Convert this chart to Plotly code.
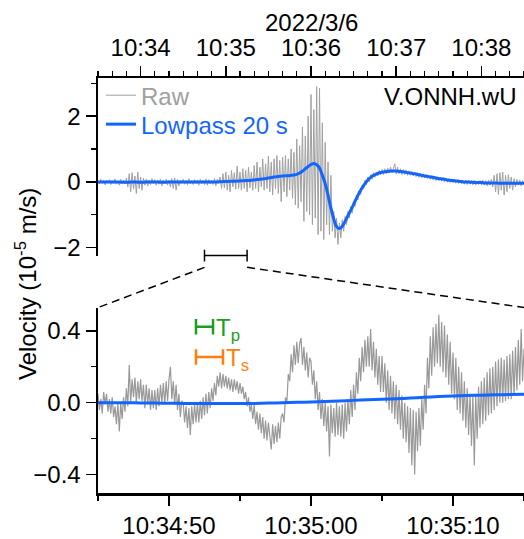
import plotly.graph_objects as go
import pandas as pd

# ---------------- data ----------------
top_start = "2022-03-06 10:33:30"
top_end = "2022-03-06 10:38:30"
zoom_start = "2022-03-06 10:34:45"
zoom_end = "2022-03-06 10:35:15"
date_label = "2022/3/6"
station = "V.ONNH.wU"

# raw trace, full window, 1 s samples (10^-5 m/s)
raw_top = [
    0.03, -0.06, 0.08, -0.04, 0.05, -0.09, 0.06, -0.03, 0.07, -0.08,
    0.04, -0.05, 0.09, -0.07, 0.03, -0.1, 0.08, -0.04, 0.06, -0.06,
    0.12, -0.15, 0.25, -0.3, 0.28, -0.22, 0.18, -0.35, 0.3, -0.2,
    0.15, -0.25, 0.12, -0.1, 0.08, -0.12, 0.06, -0.08, 0.1, -0.05,
    0.07, -0.1, 0.05, -0.07, 0.09, -0.12, 0.06, -0.04, 0.08, -0.1,
    0.05, -0.15, 0.1, -0.2, 0.12, -0.25, 0.08, -0.12, 0.06, -0.05,
    0.08, -0.07, 0.05, -0.09, 0.1, -0.06, 0.04, -0.08, 0.07, -0.05,
    0.06, -0.1, 0.08, -0.06, 0.05, -0.08, 0.09, -0.1, 0.07, -0.06,
    0.05, -0.08, 0.1, -0.12, 0.08, -0.05, 0.15, -0.2, 0.25, -0.18,
    0.3, -0.25, 0.2, -0.3, 0.35, -0.15, 0.28, -0.22, 0.48, -0.2,
    0.3, -0.25, 0.4, -0.2, 0.35, -0.3, 0.45, -0.18, 0.3, -0.25,
    0.5, -0.2, 0.6, -0.3, 0.45, -0.15, 0.7, -0.25, 0.55, -0.2,
    0.78, -0.3, 0.6, -0.4, 0.7, -0.2, 0.8, -0.35, 0.65, -0.6,
    0.75, -0.3, 0.8, -0.45, 0.7, -0.25, 1.0, -0.5, 0.9, -0.7,
    1.3, -0.8, 1.1, -0.6, 1.67, -1.2, 1.4, -0.9, 2.0, -1.0,
    2.66, -1.3, 2.2, -1.1, 2.9, -1.6, 2.85, -1.5, 1.8, -1.75,
    1.2, -1.3, 0.6, -1.6, 0.2, -1.5, -0.9, -1.7, -1.1, -1.9,
    -1.25, -1.7, -1.15, -1.5, -1.05, -1.3, -0.9, -1.1, -0.75, -0.95,
    -0.6, -0.75, -0.4, -0.55, -0.25, -0.38, -0.1, -0.22, 0.05, -0.08,
    0.14, 0.0, 0.22, 0.08, 0.28, 0.14, 0.3, 0.18, 0.35, 0.22,
    0.38, 0.22, 0.4, 0.25, 0.42, 0.26, 0.45, 0.28, 0.4, 0.55,
    0.24, 0.45, 0.25, 0.4, 0.22, 0.38, 0.22, 0.36, 0.2, 0.34,
    0.2, 0.32, 0.18, 0.3, 0.16, 0.28, 0.14, 0.27, 0.12, 0.25,
    0.12, 0.23, 0.1, 0.21, 0.08, 0.2, 0.06, 0.18, 0.04, 0.16,
    0.03, 0.15, 0.02, 0.13, 0.0, 0.12, -0.01, 0.1, -0.02, 0.09,
    -0.03, 0.08, -0.04, 0.07, -0.05, 0.06, -0.06, 0.05, -0.07, 0.06,
    -0.08, 0.05, -0.07, 0.04, -0.09, 0.05, -0.1, 0.03, -0.08, 0.04,
    -0.09, 0.05, -0.1, 0.04, -0.12, 0.06, -0.1, 0.08, -0.15, 0.2,
    -0.3, 0.25, -0.38, 0.28, -0.25, 0.3, -0.4, 0.2, -0.3, 0.22,
    -0.2, 0.15, -0.25, 0.1, -0.15, 0.08, -0.1, 0.06, -0.12, 0.04,
    -0.05,
]

# 20 s lowpass, full window, 2 s samples
lowpass_top = [
    0.0, 0.0, 0.0, 0.0, 0.0, 0.0, 0.0, 0.0, -0.01, -0.01,
    -0.01, -0.01, 0.0, 0.0, -0.01, -0.01, -0.01, 0.0, 0.0, 0.0,
    0.0, 0.0, -0.01, -0.01, -0.01, 0.0, 0.0, 0.0, 0.0, 0.0,
    0.0, 0.0, 0.0, 0.0, 0.0, 0.0, 0.0, 0.0, 0.0, 0.0,
    0.0, 0.0, 0.0, 0.005, 0.01, 0.01, 0.015, 0.02, 0.02, 0.025,
    0.03, 0.035, 0.04, 0.045, 0.05, 0.06, 0.07, 0.08, 0.09, 0.1,
    0.12, 0.13, 0.15, 0.16, 0.17, 0.18, 0.19, 0.19, 0.2, 0.21,
    0.23, 0.27, 0.33, 0.4, 0.47, 0.53, 0.56, 0.52, 0.42, 0.2,
    -0.05, -0.4, -0.8, -1.12, -1.36, -1.42, -1.35, -1.2, -1.03, -0.86,
    -0.68, -0.5, -0.33, -0.18, -0.05, 0.06, 0.14, 0.2, 0.24, 0.27,
    0.29, 0.31, 0.32, 0.33, 0.33, 0.33, 0.32, 0.31, 0.3, 0.28,
    0.27, 0.25, 0.24, 0.22, 0.2, 0.18, 0.17, 0.15, 0.14, 0.12,
    0.1, 0.09, 0.08, 0.06, 0.05, 0.04, 0.03, 0.02, 0.01, 0.0,
    0.0, -0.01, -0.01, -0.02, -0.02, -0.02, -0.03, -0.03, -0.03, -0.03,
    -0.03, -0.04, -0.04, -0.04, -0.04, -0.04, -0.04, -0.04, -0.04, -0.04,
    -0.04,
]

# raw trace, zoom window, 0.1 s samples
raw_zoom = [
    0.05, -0.04, 0.02, -0.06, 0.06, -0.01, 0.05, -0.05, 0.02, -0.06,
    0.03, -0.08, -0.02, -0.12, 0.0, -0.16, 0.0, -0.09, 0.03, -0.05,
    0.08, -0.02, 0.21, 0.0, 0.13, 0.03, 0.14, 0.0, 0.12, 0.02,
    0.13, 0.01, 0.1, -0.03, 0.1, -0.01, 0.08, -0.04, 0.07, -0.03,
    0.07, -0.04, 0.08, -0.02, 0.1, 0.0, 0.11, -0.01, 0.12, 0.01,
    0.13, 0.2, 0.02, 0.12, -0.01, 0.1, -0.04, 0.05, -0.08, 0.01,
    0.0, -0.11, -0.02, -0.14, -0.03, -0.18, -0.02, -0.12, -0.01, -0.11,
    0.0, -0.11, 0.01, -0.09, 0.03, -0.07, 0.05, -0.06, 0.06, -0.03,
    0.08, 0.01, 0.11, 0.04, 0.15, 0.09, 0.17, 0.08, 0.16, 0.09,
    0.15, 0.08, 0.14, 0.07, 0.13, 0.06, 0.13, 0.07, 0.12, 0.05,
    0.11, 0.05, 0.09, 0.02, 0.06, -0.02, 0.03, -0.05, -0.01, -0.09,
    -0.01, -0.12, -0.05, -0.15, -0.06, -0.17, -0.08, -0.2, -0.1, -0.21,
    -0.11, -0.21, -0.26, -0.12, -0.23, -0.13, -0.22, -0.11, -0.2, -0.08,
    -0.06, -0.11, 0.03, 0.0, 0.16, 0.12, 0.27, 0.17, 0.32, 0.21,
    0.34, 0.22, 0.33, 0.36, 0.21, 0.31, 0.18, 0.28, 0.14, 0.25,
    0.23, 0.1, 0.18, 0.02, 0.12, -0.04, 0.06, -0.09, 0.02, -0.13,
    0.0, -0.16, -0.02, -0.3, -0.01, -0.17, -0.03, -0.19, 0.0, -0.18,
    -0.02, -0.19, -0.01, -0.2, 0.0, -0.16, 0.02, -0.12, 0.07, -0.08,
    0.1, -0.04, 0.17, 0.05, 0.25, 0.12, 0.31, 0.17, 0.35, 0.2,
    0.37, 0.2, 0.41, 0.18, 0.34, 0.14, 0.3, 0.1, 0.26, 0.06,
    0.26, 0.06, 0.22, 0.0, 0.18, -0.04, 0.15, -0.06, 0.12, -0.09,
    0.1, -0.12, 0.07, -0.15, 0.04, -0.2, 0.0, -0.22, -0.02, -0.28,
    -0.03, -0.35, -0.04, -0.4, -0.05, -0.27, -0.03, -0.24, 0.02, -0.15,
    0.1, -0.06, 0.25, 0.08, 0.37, 0.15, 0.42, 0.2, 0.44, 0.22,
    0.49, 0.2, 0.45, 0.17, 0.43, 0.14, 0.38, 0.1, 0.34, 0.05,
    0.28, 0.02, 0.25, -0.04, 0.2, -0.06, 0.17, -0.1, 0.12, -0.14,
    0.08, -0.18, 0.05, -0.24, 0.04, -0.35, 0.05, -0.2, 0.09, -0.14,
    0.12, -0.12, 0.14, -0.1, 0.17, -0.07, 0.19, -0.06, 0.2, -0.04,
    0.23, -0.02, 0.24, 0.0, 0.25, 0.0, 0.24, 0.01, 0.26, 0.02,
    0.27, 0.02, 0.29, 0.04, 0.31, 0.07, 0.35, 0.1, 0.41, 0.12,
    0.3,
]

# 20 s lowpass, zoom window, 1 s samples
lowpass_zoom = [
    0.0, 0.0, 0.0, -0.001, -0.002, -0.003, -0.004, -0.005, -0.005, -0.005,
    -0.005, -0.004, -0.002, 0.0, 0.002, 0.004, 0.007, 0.01, 0.013, 0.016,
    0.019, 0.022, 0.026, 0.03, 0.034, 0.037, 0.04, 0.042, 0.044, 0.046,
    0.047,
]

# period markers (seconds)
period_start = "2022-03-06 10:34:51.9"
period_names = ["T<sub>p</sub>", "T<sub>s</sub>"]
period_lengths = [1.2, 1.9]

# ---------------- style ----------------
FONT = "Liberation Sans, Arial, Helvetica, sans-serif"
FS = 24
GRAY = "#a0a0a0"
GRAY_ZOOM = "#999999"
BLUE = "#1266ff"
GREEN = "#1e9e1e"
ORANGE = "#ff7f0e"
W, H = 524, 539
ML, MR, MT, MB = 98, 0, 78, 38
PH = H - MT - MB  # plot height in px
PW = W - ML - MR


def py2paper(py):
    return (H - MB - py) / PH


def px2paper(px):
    return (px - ML) / PW


top_dom = [py2paper(259), 1.0]
bot_dom = [0.0, py2paper(312)]

t_raw_top = pd.date_range(top_start, periods=len(raw_top), freq="1s")
t_lp_top = pd.date_range(top_start, periods=len(lowpass_top), freq="2s")
t_raw_zoom = pd.date_range(zoom_start, periods=len(raw_zoom), freq="100ms")
t_lp_zoom = pd.date_range(zoom_start, periods=len(lowpass_zoom), freq="1s")

fig = go.Figure()
fig.add_trace(go.Scatter(x=t_raw_top, y=raw_top, mode="lines",
                         line=dict(color=GRAY, width=1),
                         name=f'<span style="color:{GRAY}">Raw</span>',
                         legend="legend", xaxis="x", yaxis="y"))
fig.add_trace(go.Scatter(x=t_lp_top, y=lowpass_top, mode="lines",
                         line=dict(color=BLUE, width=3, shape="spline"),
                         name=f'<span style="color:{BLUE}">Lowpass 20 s</span>',
                         legend="legend2", xaxis="x", yaxis="y"))
fig.add_trace(go.Scatter(x=t_raw_zoom, y=raw_zoom, mode="lines",
                         line=dict(color=GRAY_ZOOM, width=1.2), showlegend=False,
                         xaxis="x2", yaxis="y2"))
fig.add_trace(go.Scatter(x=t_lp_zoom, y=lowpass_zoom, mode="lines",
                         line=dict(color=BLUE, width=3, shape="spline"),
                         showlegend=False, xaxis="x2", yaxis="y2"))

# period bars
p0 = pd.Timestamp(period_start)
period_y = [0.423, 0.255]
period_cols = [GREEN, ORANGE]
annotations = []
for name, length, yv, col in zip(period_names, period_lengths, period_y, period_cols):
    p1 = p0 + pd.Timedelta(seconds=length)
    fig.add_trace(go.Scatter(x=[p0, p1], y=[yv, yv], mode="lines+markers",
                             line=dict(color=col, width=2.5),
                             marker=dict(symbol="line-ns", size=11,
                                         line=dict(color=col, width=2.5)),
                             showlegend=False, xaxis="x2", yaxis="y2"))
    annotations.append(dict(x=p1, y=yv, xref="x2", yref="y2", text=name,
                            showarrow=False, xanchor="left", yanchor="middle",
                            xshift=1, yshift=-3,
                            font=dict(family=FONT, size=FS, color=col)))

# zoom bracket and connector lines (paper coords from top-axis range)
ts0, ts1 = pd.Timestamp(top_start), pd.Timestamp(top_end)
fz0 = (pd.Timestamp(zoom_start) - ts0) / (ts1 - ts0)
fz1 = (pd.Timestamp(zoom_end) - ts0) / (ts1 - ts0)
yb = top_dom[0]
cap0, cap1 = py2paper(265), py2paper(253)
yd0, yd1 = py2paper(271), bot_dom[1]
shapes = [
    dict(type="line", xref="paper", yref="paper", x0=fz0, x1=fz1, y0=yb, y1=yb,
         line=dict(color="black", width=1.5)),
    dict(type="line", xref="paper", yref="paper", x0=fz0, x1=fz0, y0=cap0, y1=cap1,
         line=dict(color="black", width=1.5)),
    dict(type="line", xref="paper", yref="paper", x0=fz1, x1=fz1, y0=cap0, y1=cap1,
         line=dict(color="black", width=1.5)),
    dict(type="line", xref="paper", yref="paper", x0=fz0, x1=0, y0=yd0, y1=yd1,
         line=dict(color="black", width=1.5, dash="8px,5px")),
    dict(type="line", xref="paper", yref="paper", x0=fz1, x1=1, y0=yd0, y1=yd1,
         line=dict(color="black", width=1.5, dash="8px,5px")),
]

annotations += [
    dict(text=date_label, xref="paper", yref="paper", x=0.5, y=py2paper(21),
         xanchor="center", yanchor="middle", showarrow=False,
         font=dict(family=FONT, size=FS, color="black")),
    dict(text=station, xref="paper", yref="paper", x=px2paper(518), y=py2paper(97),
         xanchor="right", yanchor="middle", showarrow=False,
         font=dict(family=FONT, size=FS, color="black")),
    dict(text="Velocity (10<sup>-5</sup> m/s)", xref="paper", yref="paper",
         x=px2paper(26), y=py2paper(288), textangle=-90,
         xanchor="center", yanchor="middle", showarrow=False,
         font=dict(family=FONT, size=FS, color="black")),
]

axis_common = dict(showgrid=False, zeroline=False, showline=True, linecolor="black",
                   linewidth=2.5, ticks="outside", ticklen=10, tickwidth=1.5,
                   tickcolor="black", tickfont=dict(family=FONT, size=FS, color="black"))
minor_common = dict(ticks="outside", ticklen=5, tickwidth=1.2, tickcolor="black", showgrid=False)

fig.update_layout(
    width=W, height=H, margin=dict(l=ML, r=MR, t=MT, b=MB, pad=0),
    paper_bgcolor="white", plot_bgcolor="white",
    font=dict(family=FONT, size=FS, color="black"),
    xaxis=dict(axis_common, domain=[0, 1], anchor="y", side="top",
               range=[top_start, top_end], type="date",
               tick0="2022-03-06 10:34:00", dtick=60000, tickformat="%H:%M",
               minor=dict(minor_common, dtick=10000, tick0="2022-03-06 10:34:00")),
    yaxis=dict(axis_common, domain=top_dom, anchor="x", range=[-2.24, 3.16],
               tick0=0, dtick=2, minor=dict(minor_common, dtick=1, tick0=0)),
    xaxis2=dict(axis_common, domain=[0, 1], anchor="y2", side="bottom",
                range=[zoom_start, zoom_end], type="date",
                tick0="2022-03-06 10:34:50", dtick=10000, tickformat="%H:%M:%S",
                minor=dict(minor_common, dtick=5000, tick0="2022-03-06 10:34:50")),
    yaxis2=dict(axis_common, domain=bot_dom, anchor="x2", range=[-0.503, 0.53],
                tick0=0, dtick=0.4, tickformat=".1f",
                minor=dict(minor_common, dtick=0.2, tick0=0)),
    legend=dict(x=px2paper(101), y=py2paper(73), xanchor="left", yanchor="top",
                bgcolor="rgba(0,0,0,0)", font=dict(family=FONT, size=FS), itemwidth=30),
    legend2=dict(x=px2paper(101), y=py2paper(102.5), xanchor="left", yanchor="top",
                 bgcolor="rgba(0,0,0,0)", font=dict(family=FONT, size=FS), itemwidth=30),
    shapes=shapes, annotations=annotations, showlegend=True,
)

fig.write_html("out.html",
               config={"displayModeBar": False, "staticPlot": True},
               post_script="document.body.style.margin='0';document.body.style.overflow='hidden';")
